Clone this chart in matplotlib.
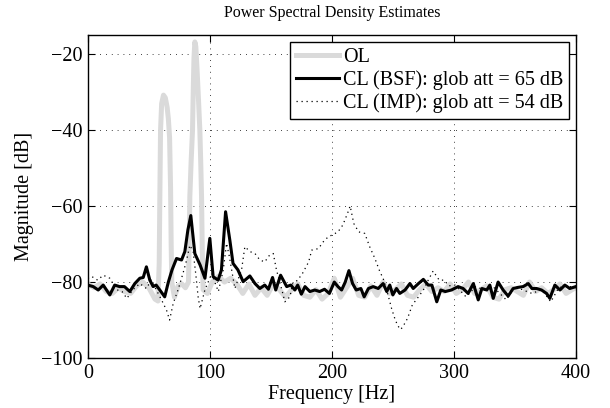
import matplotlib
matplotlib.use("Agg")
import matplotlib.pyplot as plt

# Open loop (OL) spectrum
f_ol = [0, 5, 10, 15, 20, 25, 30, 35, 40, 45, 50, 55, 57.5, 58.5, 59, 59.6, 60.5,
        62, 63.5, 65, 66, 67, 67.8, 68.3, 68.8, 71, 74, 77, 80, 82.5, 83.2, 83.6,
        84.7, 85.8, 86.5, 87, 87.7, 88.5, 89.5, 90.7, 91.8, 92.5, 93.2, 93.8, 94.5,
        98, 102, 107, 112, 117, 122, 127, 132, 137, 142, 147, 152, 157, 162, 167,
        172, 177, 182, 187, 192, 197, 202, 207, 212, 217, 222, 227, 232, 237, 242,
        247, 252, 257, 262, 267, 272, 277, 282, 287, 292, 297, 302, 307, 312, 317,
        322, 327, 332, 337, 342, 347, 352, 357, 362, 367, 372, 377, 382, 387, 392,
        397, 400]
ol_db = [-80.5, -81.5, -80.5, -82.5, -83.0, -81.5, -82.5, -83.0, -81.0, -80.0,
         -81.5, -84.5, -85.0, -75.0, -58.0, -40.0, -33.0, -30.8, -31.5, -34.0,
         -37.0, -42.0, -55.0, -70.0, -80.0, -84.0, -81.0, -80.5, -81.5, -80.0,
         -68.0, -57.5, -48.0, -40.0, -28.0, -21.0, -16.8, -18.0, -24.0, -32.0,
         -40.0, -48.0, -57.5, -72.0, -82.0, -83.0, -80.0, -78.5, -80.0, -79.0,
         -80.5, -83.0, -80.5, -83.5, -81.5, -83.5, -80.5, -82.0, -84.0, -82.0,
         -80.5, -83.5, -84.0, -82.0, -84.5, -83.0, -79.0, -84.0, -81.5, -79.0,
         -83.5, -84.0, -81.0, -83.5, -80.0, -83.0, -82.0, -80.5, -83.5, -84.0,
         -82.0, -80.5, -82.5, -81.5, -82.5, -80.5, -83.0, -82.0, -80.0, -83.0,
         -82.0, -81.0, -84.0, -84.5, -82.0, -81.5, -82.5, -83.5, -80.0, -82.5,
         -81.5, -83.0, -82.0, -80.5, -83.0, -82.0, -81.5]

# Closed loop with band-stop filter (BSF)
f_bsf = [0, 4.4, 8.5, 12.6, 18, 22, 26, 30, 34.4, 38.5, 42.6, 45.4, 48, 50.8, 53.5,
         56, 59, 63, 66, 69, 72.7, 76.8, 79.5, 82, 84.4, 87.7, 92, 96, 100, 102.7,
         106.8, 109.5, 112.9, 116.4, 119, 123, 127.3, 132.8, 137, 141, 145, 148,
         151.4, 154, 158, 163, 166.4, 169.7, 172, 175, 178, 182, 186, 190, 194, 198,
         202, 205, 208, 211, 214, 217, 220, 223.8, 226.5, 230, 233.9, 238, 242, 245,
         247.5, 250, 253, 255.7, 260, 264, 266.7, 271, 275, 279, 282, 286, 289.3,
         293, 298, 303.5, 307.6, 311.7, 316, 320, 323, 327, 329.5, 332.3, 336.3,
         340.4, 344.5, 348.6, 352.7, 356.8, 361, 364, 367.8, 371.9, 376, 378.7,
         382.8, 387, 391, 395, 400]
bsf_db = [-80.8, -81.2, -82.1, -80.8, -83.4, -80.8, -81.2, -81.2, -82.5, -80.4,
          -79.0, -78.8, -76.0, -79.5, -81.2, -80.8, -82.1, -83.9, -80.0, -76.8,
          -73.8, -74.2, -72.0, -66.3, -62.5, -72.5, -75.5, -79.0, -68.5, -78.6,
          -79.5, -76.8, -61.5, -69.0, -75.1, -76.8, -79.9, -78.4, -80.4, -81.7,
          -80.8, -81.9, -78.8, -82.1, -78.2, -81.2, -80.8, -82.1, -80.8, -83.2,
          -81.2, -82.5, -82.1, -82.5, -81.9, -83.0, -80.0, -81.2, -82.1, -80.0,
          -77.0, -80.4, -82.1, -81.7, -83.9, -81.7, -81.2, -81.7, -80.4, -82.5,
          -80.8, -83.4, -81.7, -83.0, -82.1, -80.4, -81.7, -80.4, -79.3, -80.8,
          -80.8, -85.2, -82.1, -82.5, -82.1, -81.2, -81.7, -83.0, -80.4, -84.7,
          -81.7, -82.1, -80.8, -84.3, -80.0, -82.1, -83.7, -81.7, -81.4, -81.2,
          -80.4, -81.7, -81.7, -82.1, -83.0, -84.3, -80.8, -82.1, -80.8, -81.7,
          -81.2]

# Closed loop with IMP controller
f_imp = [0, 3, 8, 12.6, 18, 23.5, 28, 32, 37, 42.6, 48, 52, 56, 60.4, 64.5, 67,
         70, 74, 78, 81, 83.6, 86.3, 88.5, 90.4, 92, 96, 98, 101.6, 104, 107, 111,
         113.7, 116, 120.5, 126, 128.7, 133, 137, 141, 145, 149, 152, 154.6, 159,
         161.5, 165.6, 168, 172, 176, 181, 183.5, 189, 193, 197, 201, 205, 209, 213,
         215, 218, 222, 227, 231, 235.3, 239.4, 242, 245, 249, 251.6, 254, 256.5,
         259, 262, 266, 271, 275, 279, 283, 288, 292, 296, 301, 310, 318, 325, 333,
         343, 350, 356, 364, 372, 379.5, 386, 392, 400]
imp_db = [-79.0, -78.5, -79.5, -78.2, -79.0, -82.0, -82.5, -84.3, -82.0, -80.4,
          -81.7, -79.5, -82.0, -84.7, -87.4, -90.0, -85.6, -82.0, -77.7, -74.2,
          -70.3, -72.0, -78.0, -83.9, -87.0, -82.0, -80.5, -77.7, -80.0, -82.5,
          -76.8, -69.8, -73.3, -81.7, -76.8, -70.7, -72.0, -72.5, -74.2, -74.7,
          -72.9, -72.5, -76.8, -82.0, -85.2, -83.9, -80.4, -79.5, -77.7, -74.7,
          -71.6, -71.2, -69.4, -68.1, -67.5, -66.8, -65.0, -61.8, -60.0, -64.6,
          -66.8, -67.2, -70.7, -73.8, -77.3, -79.0, -82.1, -87.0, -89.6, -91.5,
          -92.5, -91.3, -89.6, -86.0, -83.9, -82.1, -79.5, -77.1, -79.5, -79.5,
          -81.0, -80.8, -83.9, -81.2, -82.1, -81.5, -84.7, -81.2, -82.0, -83.0,
          -82.0, -85.2, -81.5, -81.0, -81.5]

labels = ["OL", "CL (BSF): glob att = 65 dB", "CL (IMP): glob att = 54 dB"]

plt.rcParams["font.family"] = ["Liberation Serif", "DejaVu Serif"]
plt.rcParams["font.size"] = 14.5

fig = plt.figure(figsize=(6.1, 4.08), dpi=100)
ax = fig.add_axes([0.144, 0.1225, 0.8, 0.7915])

ax.plot(f_ol, ol_db, color="#dadada", lw=3.6, label=labels[0])
ax.plot(f_bsf, bsf_db, color="black", lw=2.2, label=labels[1])
ax.plot(f_imp, imp_db, color="black", lw=0.9, linestyle=(0, (1, 3)), label=labels[2])

ax.set_xlim(0, 400)
ax.set_ylim(-100, -15)
ax.set_xticks([0, 100, 200, 300, 400])
ax.set_yticks([-100, -80, -60, -40, -20])
ax.grid(True, color="black", lw=0.6, linestyle=(0, (1, 6)))
ax.tick_params(direction="in", top=True, right=True, length=5, width=0.8,
               labelsize=14.5, pad=4)
for s in ax.spines.values():
    s.set_linewidth(1.0)

ax.set_title("Power Spectral Density Estimates", fontsize=11.5, pad=13)
ax.set_xlabel("Frequency [Hz]", fontsize=14.5, labelpad=2)
ax.set_ylabel("Magnitude [dB]", fontsize=14.5, labelpad=5)

leg = ax.legend(loc="upper right", fancybox=False, framealpha=1, edgecolor="black",
                borderpad=0.3, labelspacing=0.16, handlelength=2.15, handletextpad=0.2,
                borderaxespad=0.32, fontsize=14.5)
leg.get_frame().set_linewidth(1.0)

fig.savefig("out.png", dpi=100)
